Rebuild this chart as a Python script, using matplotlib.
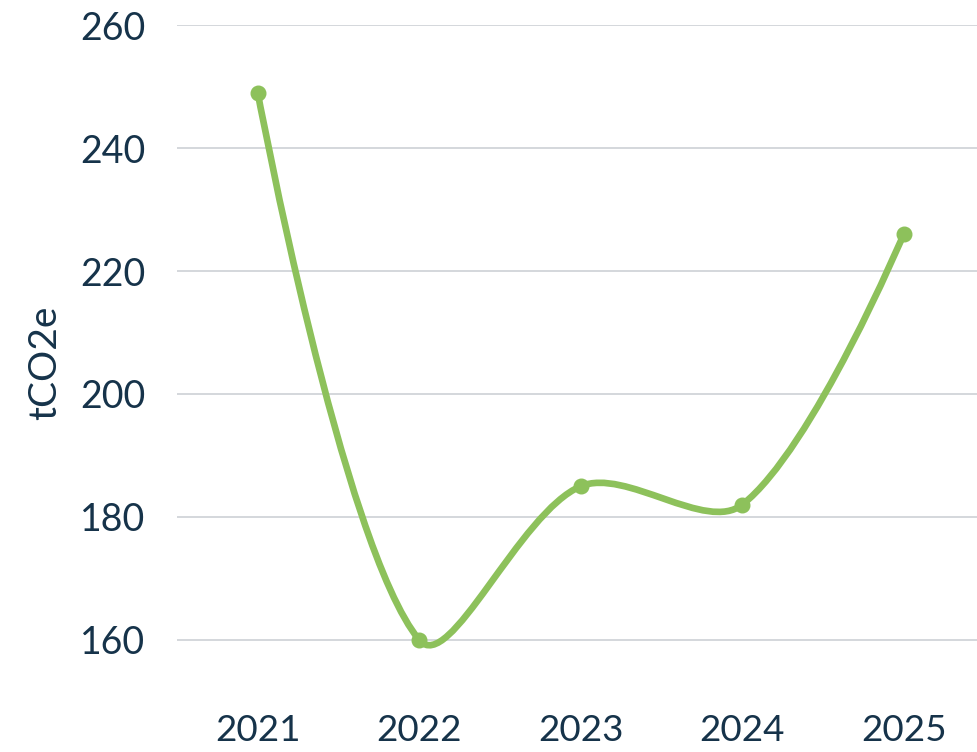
import numpy as np
import matplotlib
matplotlib.use("Agg")
import matplotlib.pyplot as plt
from matplotlib.path import Path
from matplotlib.patches import PathPatch

years = ["2021", "2022", "2023", "2024", "2025"]
emissions = [249, 160, 185, 182, 226]
yticks = [160, 180, 200, 220, 240, 260]

text_col = "#16334a"
line_col = "#8dc15b"
grid_col = "#c9cdd2"

plt.rcParams['font.family'] = ['Lato', 'DejaVu Sans']

fig = plt.figure(figsize=(9.78, 7.52), dpi=100)
ax = fig.add_axes([177 / 978, 1 - 701.5 / 752, 1 - 177 / 978, (701.5 - 25) / 752])
ax.set_xlim(-0.5, 4.46)
ax.set_ylim(150, 260)

ax.set_yticks(yticks)
ax.set_yticklabels([str(v) for v in yticks])
ax.set_xticks(range(len(years)))
ax.set_xticklabels(years)
ax.tick_params(axis='y', length=0, pad=23, labelsize=27, labelcolor=text_col)
ax.tick_params(axis='x', length=0, pad=9, labelsize=26.5, labelcolor=text_col)
ax.grid(axis='y', color=grid_col, linewidth=1.1)
ax.set_axisbelow(True)
for s in ax.spines.values():
    s.set_visible(False)
ax.set_ylabel("tCO2e", fontsize=28, color=text_col, labelpad=12)

# smoothed line (distance-weighted cardinal spline, built in display space)
x = np.arange(len(years))
pts = ax.transData.transform(np.column_stack([x, emissions]))
tension = 0.33
n = len(pts)
cp_prev = pts.copy()
cp_next = pts.copy()
for i in range(1, n - 1):
    p0, p1, p2 = pts[i - 1], pts[i], pts[i + 1]
    d01 = np.hypot(*(p1 - p0))
    d12 = np.hypot(*(p2 - p1))
    s01 = d01 / (d01 + d12)
    s12 = d12 / (d01 + d12)
    cp_prev[i] = p1 - tension * s01 * (p2 - p0)
    cp_next[i] = p1 + tension * s12 * (p2 - p0)
verts = [pts[0]]
codes = [Path.MOVETO]
for i in range(n - 1):
    verts += [cp_next[i], cp_prev[i + 1], pts[i + 1]]
    codes += [Path.CURVE4] * 3
verts = ax.transData.inverted().transform(np.array(verts))
patch = PathPatch(Path(verts, codes), facecolor='none', edgecolor=line_col,
                  linewidth=4.8, capstyle='round', joinstyle='round')
ax.add_patch(patch)
ax.plot(x, emissions, linestyle='none', marker='o', markersize=10.5,
        color=line_col, clip_on=False)

fig.savefig("out.png", dpi=100)
